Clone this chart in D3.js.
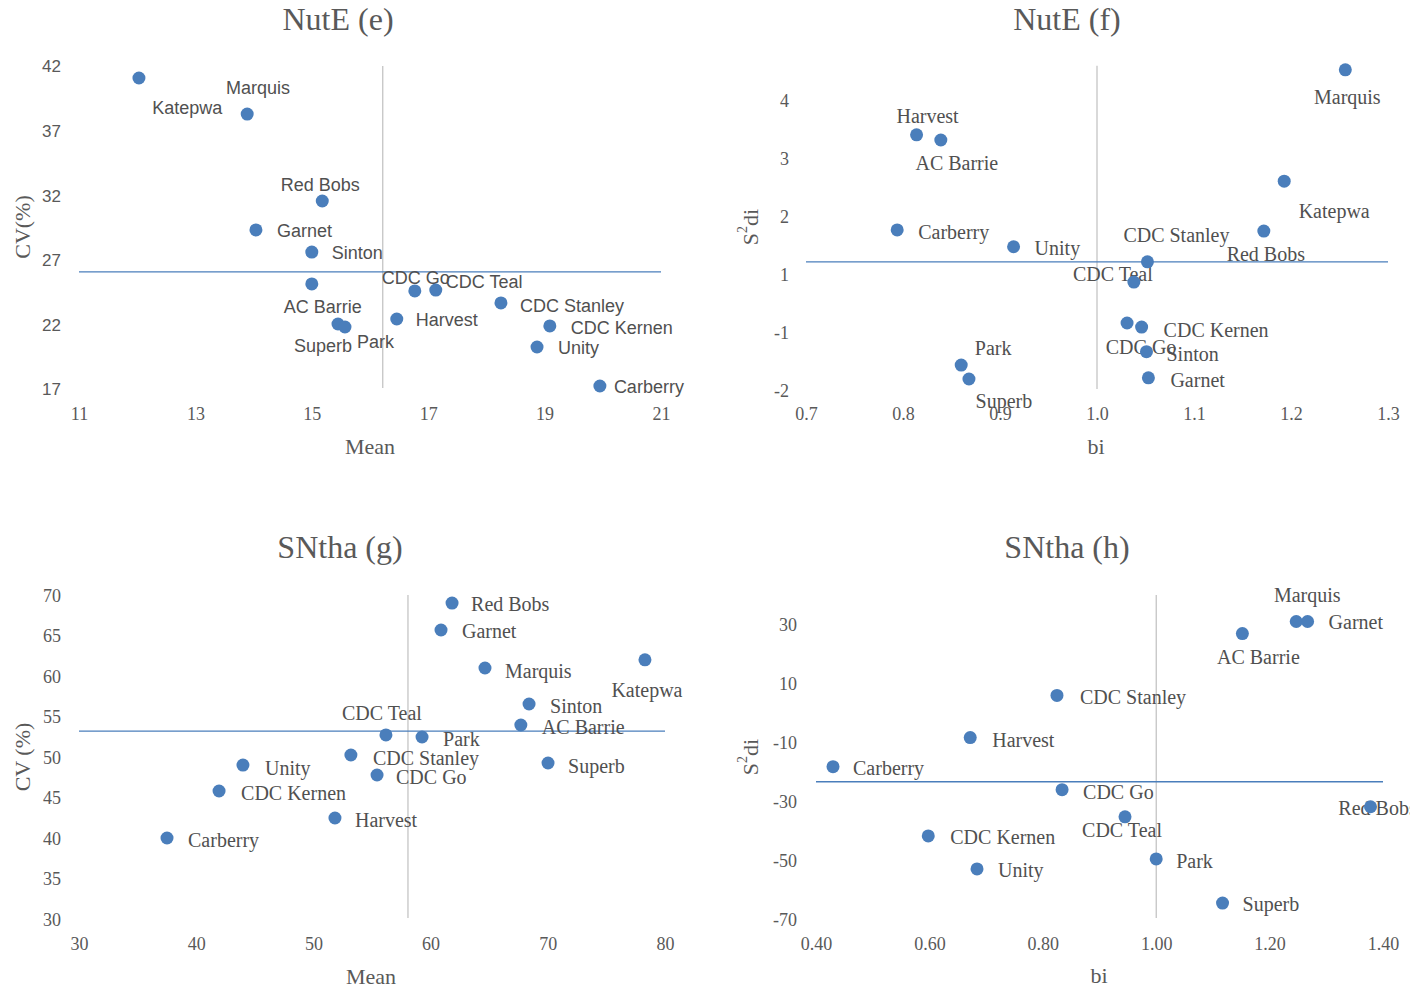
<!DOCTYPE html>
<html>
<head>
<meta charset="utf-8">
<script src="https://cdn.jsdelivr.net/npm/d3@7"></script>
<style>
  html, body { margin: 0; padding: 0; background: #ffffff; }
  svg { display: block; }
</style>
</head>
<body>
<svg id="chart" width="1410" height="990"></svg>
<script>
// ---------- NutE: mean vs CV (e) ----------
const eNames = ["Marquis","Katepwa","Red Bobs","Garnet","Sinton","AC Barrie","CDC Go","CDC Teal","CDC Stanley","Harvest","CDC Kernen","Superb","Park","Unity","Carberry"];
const eMean  = [12.03, 13.89, 15.18, 14.04, 15.00, 15.00, 16.77, 17.13, 18.25, 16.46, 19.09, 15.45, 15.57, 18.87, 19.95];
const eCV    = [41.07, 38.28, 31.55, 29.31, 27.60, 25.13, 24.59, 24.66, 23.66, 22.42, 21.88, 22.03, 21.80, 20.25, 17.23];
const eRefX = 16.22, eRefY = 26.06;
const eXTicks = [11, 13, 15, 17, 19, 21];
const eYTicks = [17, 22, 27, 32, 37, 42];

// ---------- NutE: bi vs S2di (f) ----------
const fNames = ["Marquis","Harvest","AC Barrie","Katepwa","Carberry","Red Bobs","Unity","CDC Stanley","CDC Teal","CDC Go","CDC Kernen","Sinton","Park","Superb","Garnet"];
const fBi    = [1.256, 0.814, 0.839, 1.193, 0.794, 1.172, 0.914, 1.052, 1.038, 1.031, 1.046, 1.051, 0.860, 0.868, 1.053];
const fS2di  = [4.52, 3.40, 3.31, 2.60, 1.76, 1.74, 1.47, 1.21, 0.72, -0.69, -0.83, -1.34, -1.57, -1.81, -1.79];
const fRefX = 1.0, fRefY = 1.21;
const fXTicks = [0.7, 0.8, 0.9, 1.0, 1.1, 1.2, 1.3];
const fYTicks = [-2, -1, 1, 2, 3, 4];
const fYTickLabels = ["-2", "-1", "1", "2", "3", "4"];
const fYTop = 4.59;

// ---------- SNtha: mean vs CV (g) ----------
const gNames = ["Red Bobs","Garnet","Marquis","Katepwa","Sinton","AC Barrie","CDC Teal","Park","CDC Stanley","Unity","Superb","CDC Go","CDC Kernen","Harvest","Carberry"];
const gMean  = [61.83, 60.89, 64.64, 78.29, 68.40, 67.70, 56.19, 59.27, 53.20, 43.99, 70.02, 55.43, 41.95, 51.84, 37.51];
const gCV    = [69.00, 65.68, 60.99, 62.00, 56.54, 53.95, 52.72, 52.47, 50.25, 49.00, 49.26, 47.78, 45.80, 42.47, 40.00];
const gRefX = 58.07, gRefY = 53.2;
const gXTicks = [30, 40, 50, 60, 70, 80];
const gYTicks = [30, 35, 40, 45, 50, 55, 60, 65, 70];

// ---------- SNtha: bi vs S2di (h) ----------
const hNames = ["Marquis","Garnet","AC Barrie","CDC Stanley","Harvest","Carberry","CDC Go","Red Bobs","CDC Teal","CDC Kernen","Park","Unity","Superb"];
const hBi    = [1.247, 1.267, 1.152, 0.825, 0.672, 0.430, 0.834, 1.378, 0.945, 0.598, 1.000, 0.684, 1.117];
const hS2di  = [31.0, 31.0, 26.9, 5.9, -8.4, -18.3, -26.1, -31.9, -35.3, -41.8, -49.6, -53.0, -64.6];
const hRefX = 1.0, hRefY = -23.4;
const hXTicks = [0.4, 0.6, 0.8, 1.0, 1.2, 1.4];
const hYTicks = [-70, -50, -30, -10, 10, 30];
const hYTop = 40;

// ---------- styling ----------
const SERIF = "'Liberation Serif', 'Times New Roman', serif";
const SANS  = "'Liberation Sans', Arial, sans-serif";
const TEXT  = "#595959";
const DOT   = "#4a7ebb";
const REF_H = "#4a7ebb";
const REF_V = "#b3b3b3";

// plain integer / fixed formats with an ASCII hyphen for negatives
const intFmt = d => String(Math.round(d));
const fixFmt = n => d => d.toFixed(n);

// label placement: [anchor, dx, dy] relative to the marker
const ePlace = {
  "Marquis": ["middle", 119, 10], "Katepwa": ["middle", -60, -6], "Red Bobs": ["middle", -2, -16],
  "Garnet": ["start", 21, 1], "Sinton": ["start", 20, 1], "AC Barrie": ["middle", 11, 23],
  "CDC Go": ["middle", 1, -13], "CDC Teal": ["start", 10, -8], "CDC Stanley": ["start", 19, 3],
  "Harvest": ["start", 19, 1], "CDC Kernen": ["start", 21, 2], "Superb": ["middle", -15, 22],
  "Park": ["start", 12, 15], "Unity": ["start", 21, 1], "Carberry": ["start", 14, 1]
};
const fPlace = {
  "Marquis": ["middle", 2, 27], "Harvest": ["middle", 11, -19], "AC Barrie": ["middle", 16, 23],
  "Katepwa": ["middle", 50, 30], "Carberry": ["start", 21, 2], "Red Bobs": ["middle", 2, 23],
  "Unity": ["start", 21, 1], "CDC Stanley": ["middle", 29, -27], "CDC Teal": ["middle", -21, -8],
  "CDC Go": ["middle", 14, 24], "CDC Kernen": ["start", 22, 3], "Sinton": ["start", 20, 2],
  "Park": ["middle", 32, -17], "Superb": ["middle", 35, 22], "Garnet": ["start", 22, 2]
};
const gPlace = {
  "Red Bobs": ["start", 19, 1], "Garnet": ["start", 21, 1], "Marquis": ["start", 20, 3],
  "Katepwa": ["middle", 2, 30], "Sinton": ["start", 21, 2], "AC Barrie": ["start", 21, 2],
  "CDC Teal": ["middle", -4, -22], "Park": ["start", 21, 2], "CDC Stanley": ["start", 22, 3],
  "Unity": ["start", 22, 3], "Superb": ["start", 20, 3], "CDC Go": ["start", 19, 2],
  "CDC Kernen": ["start", 22, 2], "Harvest": ["start", 20, 2], "Carberry": ["start", 21, 2]
};
const hPlace = {
  "Marquis": ["middle", 11, -27], "Garnet": ["start", 21, 0], "AC Barrie": ["middle", 16, 23],
  "CDC Stanley": ["start", 23, 2], "Harvest": ["start", 22, 2], "Carberry": ["start", 20, 1],
  "CDC Go": ["start", 21, 2], "Red Bobs": ["middle", 7, 1], "CDC Teal": ["middle", -3, 13],
  "CDC Kernen": ["start", 22, 1], "Park": ["start", 20, 2], "Unity": ["start", 21, 1],
  "Superb": ["start", 20, 1]
};

const svg = d3.select("#chart");
svg.append("rect").attr("width", 1410).attr("height", 990).attr("fill", "#ffffff");

function drawPanel(p) {
  const g = svg.append("g");
  const [x0, x1] = p.x.range();
  const yr = p.y.range();
  const yBottom = d3.max(yr), yTopPx = d3.min(yr);

  // title
  g.append("text").attr("x", p.titleX).attr("y", p.titleY)
    .attr("text-anchor", "middle").attr("dominant-baseline", "central")
    .attr("font-family", SERIF).attr("font-size", 32).attr("fill", TEXT)
    .text(p.title);

  // x axis tick labels
  const xa = g.append("g").attr("transform", `translate(0,${p.xLabelY})`)
    .call(d3.axisBottom(p.x).tickValues(p.xTicks).tickSize(0).tickPadding(0).tickFormat(p.xFormat));
  xa.select(".domain").remove();
  xa.selectAll("text").attr("y", 0).attr("dy", "0.35em")
    .attr("font-family", SERIF).attr("font-size", 18).attr("fill", TEXT);

  // y axis tick labels
  const ya = g.append("g").attr("transform", `translate(${p.yLabelX},0)`)
    .call(d3.axisLeft(p.y).tickValues(p.yTicks).tickSize(0).tickPadding(0).tickFormat(p.yFormat));
  ya.select(".domain").remove();
  ya.selectAll("text").attr("x", 0).attr("dy", "0.35em")
    .attr("font-family", p.yTickFont).attr("font-size", p.yTickSize).attr("fill", TEXT);

  // axis titles
  g.append("text").attr("x", p.xTitleX).attr("y", p.xTitleY)
    .attr("text-anchor", "middle").attr("dominant-baseline", "central")
    .attr("font-family", SERIF).attr("font-size", 22).attr("fill", TEXT)
    .text(p.xTitle);
  const yt = g.append("text")
    .attr("transform", `translate(${p.yTitleX},${p.yTitleY}) rotate(-90)`)
    .attr("text-anchor", "middle").attr("dominant-baseline", "central")
    .attr("font-family", SERIF).attr("font-size", 22).attr("fill", TEXT);
  if (p.yTitleSup) {
    yt.append("tspan").text(p.yTitle[0]);
    yt.append("tspan").attr("font-size", 14).attr("dy", -8).text(p.yTitleSup);
    yt.append("tspan").attr("dy", 8).text(p.yTitle[1]);
  } else {
    yt.text(p.yTitle);
  }

  // reference lines
  g.append("line")
    .attr("x1", p.x(p.refX)).attr("x2", p.x(p.refX))
    .attr("y1", yTopPx).attr("y2", yBottom - 1)
    .attr("stroke", REF_V).attr("stroke-width", 1);
  g.append("line")
    .attr("x1", x0).attr("x2", x1)
    .attr("y1", p.y(p.refY)).attr("y2", p.y(p.refY))
    .attr("stroke", REF_H).attr("stroke-width", 1.3);

  const rows = p.names.map((n, i) => ({ name: n, x: p.xs[i], y: p.ys[i] }));

  // point labels
  g.append("g").selectAll("text").data(rows).join("text")
    .attr("x", d => p.x(d.x) + p.place[d.name][1])
    .attr("y", d => p.y(d.y) + p.place[d.name][2])
    .attr("text-anchor", d => p.place[d.name][0])
    .attr("dominant-baseline", "central")
    .attr("font-family", p.labelFont).attr("font-size", p.labelSize).attr("fill", "#505050")
    .text(d => d.name);

  // markers
  g.append("g").selectAll("circle").data(rows).join("circle")
    .attr("cx", d => p.x(d.x)).attr("cy", d => p.y(d.y))
    .attr("r", 6.5).attr("fill", DOT);
}

// NutE (e)
drawPanel({
  title: "NutE (e)", titleX: 338, titleY: 19,
  names: eNames, xs: eMean, ys: eCV, place: ePlace,
  x: d3.scaleLinear().domain([11, 21]).range([79, 661]),
  y: d3.scaleLinear().domain([17, 42]).range([389, 66]),
  xTicks: eXTicks, yTicks: eYTicks,
  xFormat: intFmt, yFormat: intFmt,
  xLabelY: 414, yLabelX: 61, yTickFont: SANS, yTickSize: 17,
  xTitle: "Mean", xTitleX: 370, xTitleY: 446,
  yTitle: "CV(%)", yTitleX: 22, yTitleY: 227,
  refX: eRefX, refY: eRefY,
  labelFont: SANS, labelSize: 18
});

// NutE (f): the S2di axis carries uneven tick steps, so the scale is piecewise
const fYPix = fYTicks.map((t, i) => 390 - i * 58);
drawPanel({
  title: "NutE (f)", titleX: 1067, titleY: 19,
  names: fNames, xs: fBi, ys: fS2di, place: fPlace,
  x: d3.scaleLinear().domain([0.7, 1.3]).range([806, 1388]),
  y: d3.scaleLinear().domain([...fYTicks, fYTop]).range([...fYPix, 390 - (fYTicks.length - 1 + (fYTop - 4)) * 58]),
  xTicks: fXTicks, yTicks: fYTicks,
  xFormat: fixFmt(1), yFormat: d => fYTickLabels[fYTicks.indexOf(d)],
  xLabelY: 414, yLabelX: 789, yTickFont: SERIF, yTickSize: 18,
  xTitle: "bi", xTitleX: 1096, xTitleY: 446,
  yTitle: ["S", "di"], yTitleSup: "2", yTitleX: 750, yTitleY: 227,
  refX: fRefX, refY: fRefY,
  labelFont: SERIF, labelSize: 20
});

// SNtha (g)
drawPanel({
  title: "SNtha (g)", titleX: 340, titleY: 547,
  names: gNames, xs: gMean, ys: gCV, place: gPlace,
  x: d3.scaleLinear().domain([30, 80]).range([79, 665]),
  y: d3.scaleLinear().domain([30, 70]).range([919, 595]),
  xTicks: gXTicks, yTicks: gYTicks,
  xFormat: intFmt, yFormat: intFmt,
  xLabelY: 944, yLabelX: 61, yTickFont: SERIF, yTickSize: 18,
  xTitle: "Mean", xTitleX: 371, xTitleY: 976,
  yTitle: "CV (%)", yTitleX: 22, yTitleY: 757,
  refX: gRefX, refY: gRefY,
  labelFont: SERIF, labelSize: 20
});

// SNtha (h)
drawPanel({
  title: "SNtha (h)", titleX: 1067, titleY: 547,
  names: hNames, xs: hBi, ys: hS2di, place: hPlace,
  x: d3.scaleLinear().domain([0.4, 1.4]).range([816, 1383]),
  y: d3.scaleLinear().domain([-70, hYTop]).range([919, 595]),
  xTicks: hXTicks, yTicks: hYTicks,
  xFormat: fixFmt(2), yFormat: intFmt,
  xLabelY: 944, yLabelX: 797, yTickFont: SERIF, yTickSize: 18,
  xTitle: "bi", xTitleX: 1099, xTitleY: 975,
  yTitle: ["S", "di"], yTitleSup: "2", yTitleX: 750, yTitleY: 757,
  refX: hRefX, refY: hRefY,
  labelFont: SERIF, labelSize: 20
});
</script>
</body>
</html>
